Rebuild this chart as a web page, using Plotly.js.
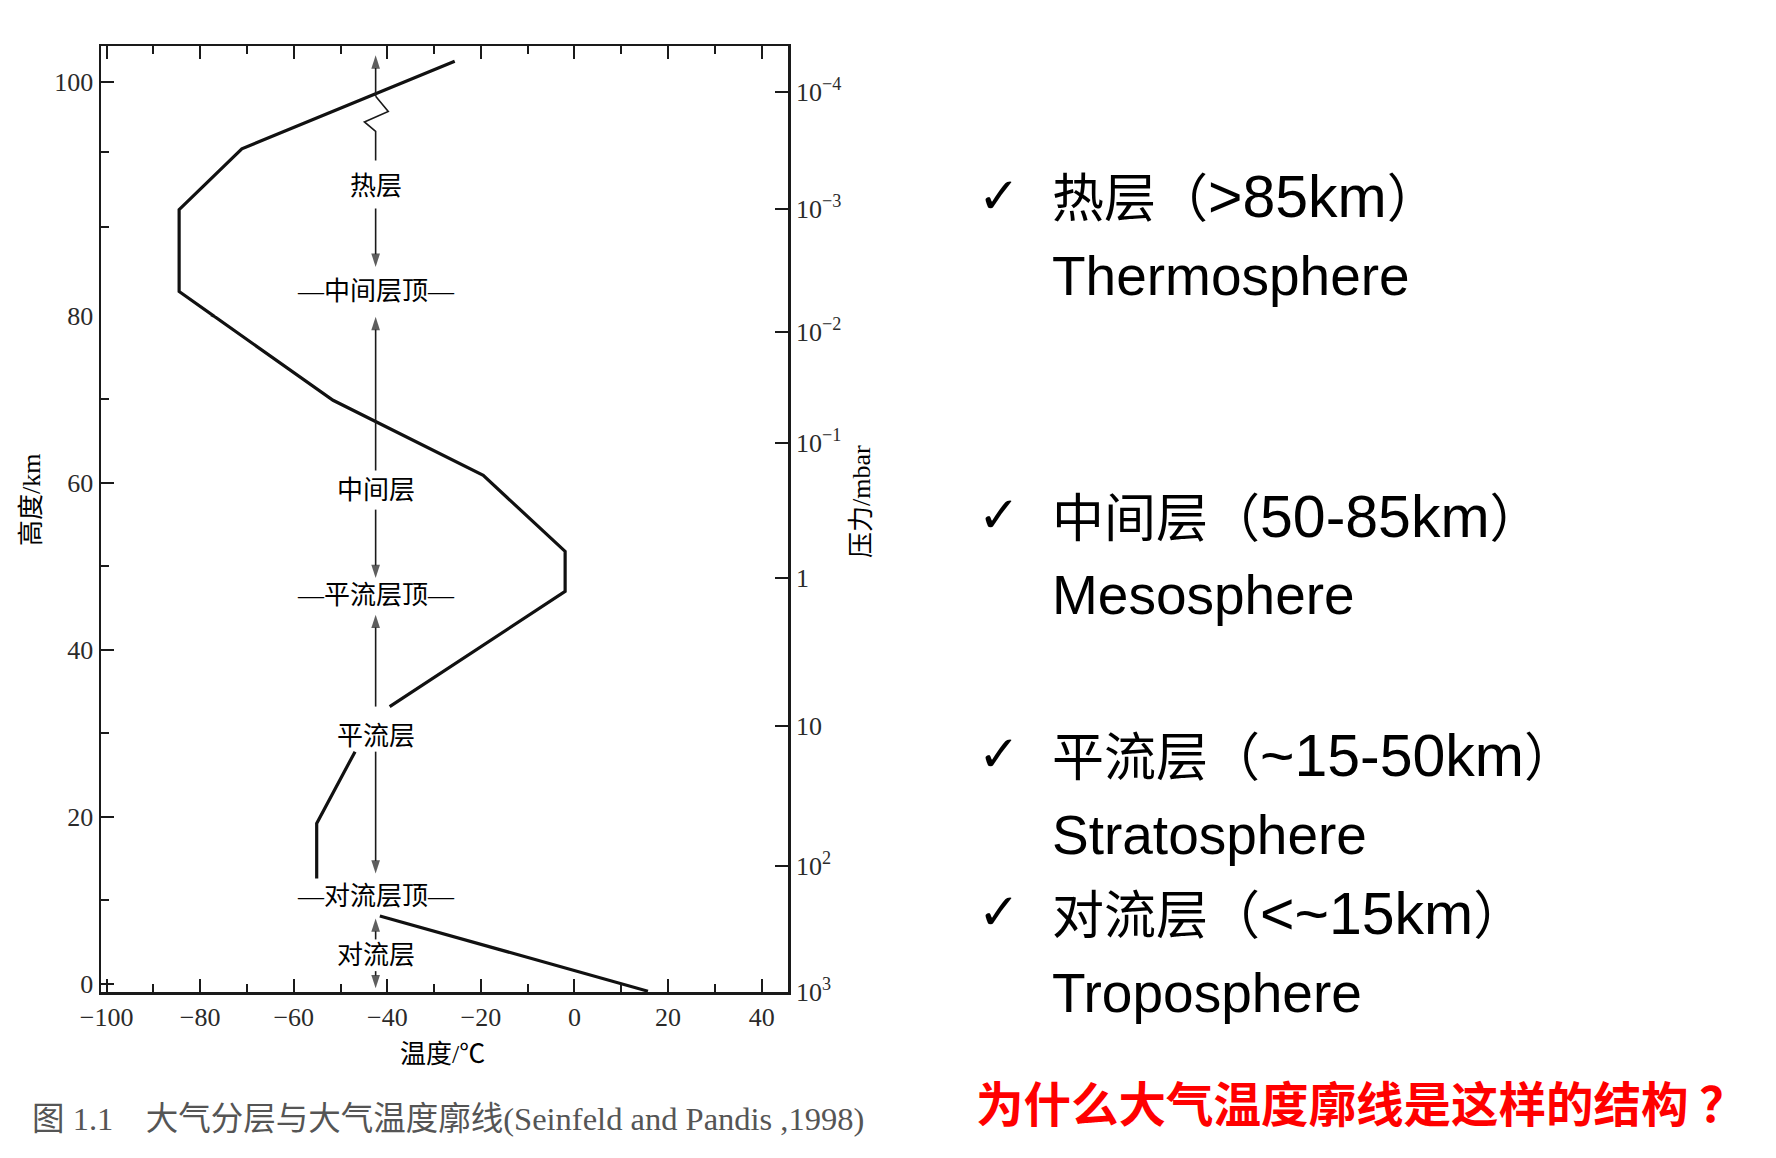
<!DOCTYPE html>
<html>
<head>
<meta charset="utf-8">
<script src="https://cdn.plot.ly/plotly-3.0.1.min.js"></script>
<style>
html,body{margin:0;padding:0;background:#ffffff;}
#chart{width:1776px;height:1158px;}
</style>
</head>
<body>
<div id="chart"></div>
<script>
// ---------- data ----------
// temperature profile, three drawn pieces (°C, km)
const tempUpper = [-25.6, -71.1, -84.5, -84.5, -77.1, -51.6, -19.5, -2.0, -2.0, -39.5];
const altUpper  = [101.8, 94.3, 89.1, 82.1, 80.0, 69.9, 60.9, 51.8, 47.0, 33.2];
const tempStrat = [-46.9, -55.1, -55.1];
const altStrat  = [27.8, 19.2, 12.6];
const tempTropo = [-41.6, 15.7];
const altTropo  = [8.1, -0.9];

// layer labels along the arrow column
const layerLabels = ['热层', '—中间层顶—', '中间层', '—平流层顶—', '平流层', '—对流层顶—', '对流层'];
const layerAlts   = [91.1, 82.1, 59.1, 46.5, 29.6, 10.4, 3.4];
const arrowTemp   = -42.5;
const arrowTails  = [98.8, 89.2, 61.5, 56.8, 33.2, 27.8, 5.3, 1.5];
const arrowHeads  = [102.3, 84.2, 79.9, 48.6, 44.2, 13.2, 7.8, -0.55];
// axis-break zigzag on the top arrow
const zigzagTemp = [-42.5, -39.8, -44.9, -42.5, -42.5];
const zigzagAlt  = [98.8, 97.5, 96.6, 95.8, 93.3];

// axis ticks
const tempTicks      = [-100, -80, -60, -40, -20, 0, 20, 40];
const tempMinor      = [-90, -70, -50, -30, -10, 10, 30];
const altTicksLow    = [0, 20, 40, 60, 80];
const altMinorLow    = [10, 30, 50, 70];
const altTicksHigh   = [100];
const altMinorHigh   = [87.6, 94];
// pressure axis: altitude where each pressure level sits
const pressureLabels = ['10<sup>3</sup>', '10<sup>2</sup>', '10', '1', '10<sup>−1</sup>', '10<sup>−2</sup>', '10<sup>−3</sup>', '10<sup>−4</sup>'];
const pressureAlts   = [-1, 14.1, 30.9, 48.6, 64.8, 78.1, 89.15, 99.2];

// right-hand text
const layerNamesCN = ['热层（>85km）', '中间层（50-85km）', '平流层（~15-50km）', '对流层（<~15km）'];
const layerNamesEN = ['Thermosphere', 'Mesosphere', 'Stratosphere', 'Troposphere'];
const caption  = '图 1.1　大气分层与大气温度廓线(Seinfeld and Pandis ,1998)';
const question = '为什么大气温度廓线是这样的结构 ？';

// ---------- layout helpers ----------
const W = 1776, H = 1158;
const fx = p => p / W;
const fy = p => 1 - p / H;
const X0 = fx(101), X1 = fx(788.3);
const YB = fy(992), YM = fy(316), YT = fy(46);
const tempRange = [-101.2, 45.7];
const lowRange = [-1, 80];
const highRange = [80, 103.1];

const ink = '#1a1a1a';
const serif = 'Liberation Serif, Noto Sans CJK SC, serif';
const sans = 'Liberation Sans, Noto Sans CJK SC, sans-serif';
const tickFont = {family: serif, size: 26, color: '#2a2a2a'};

function joinPieces(a, b, c) { return a.concat([null], b, [null], c); }
const curveT = joinPieces(tempUpper, tempStrat, tempTropo);
const curveA = joinPieces(altUpper, altStrat, altTropo);

// arrows: [tail, head, gap] per arrow, split by subplot
function arrowTrace(upper) {
  const xs = [], ys = [], sizes = [];
  arrowTails.forEach((tail, i) => {
    const isUp = tail > 80 && arrowHeads[i] > 80;
    if (isUp !== upper) return;
    xs.push(arrowTemp, arrowTemp, null);
    ys.push(tail, arrowHeads[i], null);
    sizes.push(0, 14, 0);
  });
  return {
    x: xs, y: ys, xaxis: upper ? 'x2' : 'x', yaxis: upper ? 'y2' : 'y',
    mode: 'lines+markers', connectgaps: false, cliponaxis: false,
    line: {color: ink, width: 1.6},
    marker: {symbol: 'arrow', angleref: 'previous', size: sizes, color: ink, line: {width: 0}},
    hoverinfo: 'skip', showlegend: false
  };
}

const lineStyle = {color: '#111', width: 3.2};
const traces = [
  {x: curveT, y: curveA, xaxis: 'x', yaxis: 'y', mode: 'lines', line: lineStyle, connectgaps: false, hoverinfo: 'skip', showlegend: false},
  {x: curveT, y: curveA, xaxis: 'x2', yaxis: 'y2', mode: 'lines', line: lineStyle, connectgaps: false, hoverinfo: 'skip', showlegend: false},
  {x: zigzagTemp, y: zigzagAlt, xaxis: 'x2', yaxis: 'y2', mode: 'lines', line: {color: ink, width: 1.6}, hoverinfo: 'skip', showlegend: false},
  arrowTrace(false),
  arrowTrace(true),
  // register the pressure axes (nothing drawn)
  {x: curveT, y: curveA, xaxis: 'x', yaxis: 'y3', mode: 'none', hoverinfo: 'skip', showlegend: false},
  {x: curveT, y: curveA, xaxis: 'x2', yaxis: 'y4', mode: 'none', hoverinfo: 'skip', showlegend: false}
];

const minorStyle = {ticks: 'inside', ticklen: 8, tickwidth: 2, tickcolor: ink, showgrid: false};
const baseAxis = {
  showgrid: false, zeroline: false, showline: true, linecolor: ink, linewidth: 2.5,
  ticks: 'inside', ticklen: 13, tickwidth: 2, tickcolor: ink, tickfont: tickFont,
  fixedrange: true
};

const annotations = [];
layerLabels.forEach((t, i) => {
  const up = layerAlts[i] > 80;
  annotations.push({
    xref: up ? 'x2' : 'x', yref: up ? 'y2' : 'y', x: arrowTemp, y: layerAlts[i],
    text: t, showarrow: false, xanchor: 'center', yanchor: 'middle',
    font: {family: serif, size: 26, color: '#000'}
  });
});

// axis titles
annotations.push({xref: 'paper', yref: 'paper', x: fx(31), y: fy(500), text: '高度/km', textangle: -90,
  showarrow: false, xanchor: 'center', yanchor: 'middle', font: {family: serif, size: 26, color: '#000'}});
annotations.push({xref: 'paper', yref: 'paper', x: fx(861), y: fy(502), text: '压力/mbar', textangle: -90,
  showarrow: false, xanchor: 'center', yanchor: 'middle', font: {family: serif, size: 26, color: '#000'}});
annotations.push({xref: 'paper', yref: 'paper', x: fx(442), y: fy(1054), text: '温度/℃',
  showarrow: false, xanchor: 'center', yanchor: 'middle', font: {family: serif, size: 26, color: '#000'}});
// caption
annotations.push({xref: 'paper', yref: 'paper', x: fx(30), y: fy(1119), text: caption,
  showarrow: false, xanchor: 'left', yanchor: 'middle', font: {family: serif, size: 32.5, color: '#555'}});

// right-hand list
const line1Y = [197.5, 516.5, 755.5, 914];
const line2Y = [276, 595, 835, 993];
layerNamesCN.forEach((t, i) => {
  const rich = t.replace(/（(.*)）/, '（<span style="font-size:59px">$1</span>）');
  annotations.push({xref: 'paper', yref: 'paper', x: fx(999), y: fy(line1Y[i] - 2), text: '<b>✓</b>',
    showarrow: false, xanchor: 'center', yanchor: 'middle', font: {family: 'DejaVu Sans', size: 50, color: '#000'}});
  annotations.push({xref: 'paper', yref: 'paper', x: fx(1050), y: fy(line1Y[i]), text: rich,
    showarrow: false, xanchor: 'left', yanchor: 'middle', font: {family: sans, size: 52, color: '#000'}});
  annotations.push({xref: 'paper', yref: 'paper', x: fx(1050), y: fy(line2Y[i]), text: layerNamesEN[i],
    showarrow: false, xanchor: 'left', yanchor: 'middle', font: {family: sans, size: 55, color: '#000'}});
});
annotations.push({xref: 'paper', yref: 'paper', x: fx(974), y: fy(1101), text: '<b>' + question + '</b>',
  showarrow: false, xanchor: 'left', yanchor: 'middle', font: {family: 'Noto Sans CJK SC', size: 47.5, color: '#ff0000'}});

const layout = {
  width: W, height: H,
  margin: {l: 0, r: 0, t: 0, b: 0, pad: 0},
  paper_bgcolor: '#ffffff', plot_bgcolor: '#ffffff',
  showlegend: false,
  xaxis: Object.assign({}, baseAxis, {domain: [X0, X1], range: tempRange, anchor: 'y',
    tickmode: 'array', tickvals: tempTicks, minor: Object.assign({tickmode: 'array', tickvals: tempMinor}, minorStyle)}),
  xaxis2: Object.assign({}, baseAxis, {domain: [X0, X1], range: tempRange, anchor: 'y2', side: 'top',
    showticklabels: false, tickmode: 'array', tickvals: tempTicks,
    minor: Object.assign({tickmode: 'array', tickvals: tempMinor}, minorStyle)}),
  yaxis: Object.assign({}, baseAxis, {domain: [YB, YM], range: lowRange, anchor: 'x',
    tickmode: 'array', tickvals: altTicksLow, minor: Object.assign({tickmode: 'array', tickvals: altMinorLow}, minorStyle)}),
  yaxis2: Object.assign({}, baseAxis, {domain: [YM, YT], range: highRange, anchor: 'x2',
    tickmode: 'array', tickvals: altTicksHigh, minor: Object.assign({tickmode: 'array', tickvals: altMinorHigh}, minorStyle)}),
  yaxis3: Object.assign({}, baseAxis, {overlaying: 'y', side: 'right', anchor: 'x', range: lowRange,
    tickmode: 'array', tickvals: pressureAlts.slice(0, 6), ticktext: pressureLabels.slice(0, 6)}),
  yaxis4: Object.assign({}, baseAxis, {overlaying: 'y2', side: 'right', anchor: 'x2', range: highRange,
    tickmode: 'array', tickvals: pressureAlts.slice(6), ticktext: pressureLabels.slice(6)}),
  annotations: annotations
};

Plotly.newPlot('chart', traces, layout, {displayModeBar: false, staticPlot: true});
</script>
</body>
</html>
